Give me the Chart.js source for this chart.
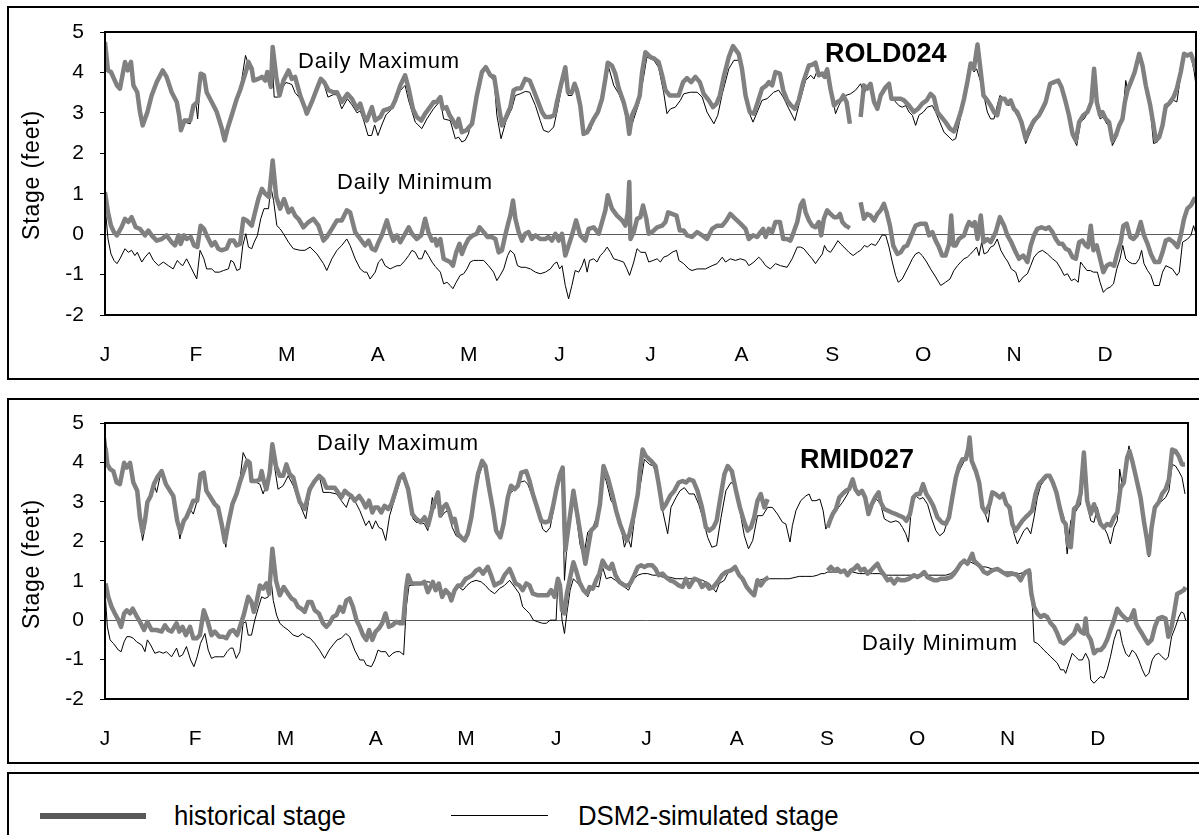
<!DOCTYPE html>
<html>
<head>
<meta charset="utf-8">
<script src="https://cdn.jsdelivr.net/npm/chart.js"></script>
<style>
  body { margin: 0; background: #fff; width: 1199px; height: 835px; overflow: hidden; position: relative;
         font-family: "Liberation Sans", Arial, sans-serif; }
  .box { position: absolute; border: 2px solid #000; box-sizing: border-box; }
  canvas { position: absolute; left: 0; }
  .txt { position: absolute; white-space: nowrap; color: #000; line-height: 1; z-index: 2; }
  .ytitle { position: absolute; white-space: nowrap; font-size: 23px; letter-spacing: 0.8px; line-height: 1;
            transform: translate(-50%, -50%) rotate(-90deg); z-index: 2; }
  .note { font-size: 22px; letter-spacing: 0.9px; }
  .lg { font-size: 28px; transform: scaleX(0.92); transform-origin: left; }
</style>
</head>
<body>
<div class="box" style="left:7px;top:6px;width:1200px;height:374px"></div>
<div class="box" style="left:7px;top:398px;width:1200px;height:366px"></div>
<div class="box" style="left:7px;top:772px;width:1200px;height:70px"></div>

<canvas id="rold" width="1199" height="390" style="top:0"></canvas>
<canvas id="rmid" width="1199" height="390" style="top:390px"></canvas>

<div class="ytitle" style="left:31px;top:175px">Stage (feet)</div>
<div class="ytitle" style="left:31px;top:564px">Stage (feet)</div>

<div class="txt note" style="left:298px;top:50px">Daily Maximum</div>
<div class="txt note" style="left:337px;top:171px">Daily Minimum</div>
<div class="txt" style="left:825px;top:40px;font-size:27px;font-weight:bold">ROLD024</div>

<div class="txt note" style="left:317px;top:432px">Daily Maximum</div>
<div class="txt" style="left:800px;top:446px;font-size:27px;font-weight:bold">RMID027</div>
<div class="txt note" style="left:862px;top:632px">Daily Minimum</div>

<!-- legend -->
<div style="position:absolute;left:40px;top:813px;width:106px;height:6px;background:#595959"></div>
<div class="txt lg" style="left:174px;top:802px">historical stage</div>
<div style="position:absolute;left:451px;top:815px;width:97px;height:1px;background:#000"></div>
<div class="txt lg" style="left:578px;top:802px">DSM2-simulated stage</div>

<script>
const monthLabels = ['J', 'F', 'M', 'A', 'M', 'J', 'J', 'A', 'S', 'O', 'N', 'D'];
const stageTicks = [-2, -1, 0, 1, 2, 3, 4, 5];

// [day of year, stage in feet]; null marks a gap in the record
const roldHistMax = [[0,4.75],[1,4.05],[2,4.01],[4,3.68],[5,3.6],[6.7,4.26],[7.6,4.05],[8.7,4.26],[9.5,3.68],[10.8,3.51],[11.7,3.02],[12.6,2.69],[14.2,3.02],[15.6,3.43],[17.3,3.76],[19.3,4.05],[20.6,3.89],[22.3,3.51],[24,3.27],[24.8,2.94],[25.4,2.57],[26.6,2.81],[28.5,2.81],[29.6,3.18],[30.9,3.27],[32,3.97],[33.1,3.93],[34,3.51],[35.7,3.27],[37.4,3.02],[39.1,2.61],[40,2.32],[41,2.61],[42.4,2.94],[44.1,3.35],[45.2,3.56],[47.4,4.09],[48,4.26],[49.1,4.09],[49.7,3.8],[51.3,3.84],[52.5,3.89],[53.6,3.8],[54.3,4.01],[55.5,3.64],[56.1,4.63],[57.3,3.89],[58.4,3.43],[59.7,3.8],[61.4,4.05],[62.5,3.84],[63.6,3.89],[65.3,3.43],[67,3.1],[67.5,2.98],[69.2,3.27],[70.9,3.6],[72.2,3.84],[73.3,3.76],[74.8,3.56],[76.4,3.51],[77.6,3.51],[79.2,3.27],[81.1,3.47],[82.6,3.35],[84.3,3.1],[85.4,3.23],[86.7,2.9],[87.6,2.81],[89.3,3.14],[90.4,2.81],[92.1,2.9],[93.2,3.06],[94.9,3.1],[96,3.14],[97.1,3.31],[98.8,3.68],[100.4,3.93],[101.6,3.6],[103,3.1],[104.3,2.9],[105.8,2.81],[107.1,2.98],[108.3,3.1],[110,3.27],[111,3.27],[112.2,3.39],
  [113,3.1],[114.2,3.14],[115.3,2.94],[116.4,2.81],[117.5,2.65],[118.3,2.85],[119.4,2.52],[120.9,2.57],[122.8,2.73],[124.4,3.43],[126.1,4.01],[127.4,4.13],[128.9,3.93],[130.2,3.89],[131.7,3.18],[132.8,2.69],[134.2,2.9],[135.6,3.14],[136.7,3.56],[137.8,3.6],[139.2,3.61],[140.6,3.84],[142.1,3.8],[143.4,3.56],[144.7,3.31],[146.2,3.02],[147.3,2.9],[149,2.9],[150.3,2.94],[151.2,3.27],[152.5,3.68],[154,4.13],[154.9,3.51],[156.2,3.51],[157.1,3.72],[157.9,3.56],[159,3.18],[160.1,2.48],[161.3,2.52],[162.4,2.69],[163.5,2.85],[164.9,3.02],[166.3,3.35],[167.4,3.84],[168.2,4.24],[169.6,4.17],[170.7,3.97],[171.9,3.6],[173.5,3.27],[174.6,2.94],[175.4,2.48],[176.3,2.94],[177.8,3.18],[178.9,3.43],[179.7,4.01],[180.8,4.5],[182.5,4.38],[183.8,4.34],[185.2,4.26],[186.4,3.93],[187.5,3.56],[188.9,3.43],[190.5,3.43],[191.9,3.43],[193.4,3.76],[194.7,3.86],[196.1,3.76],[197.5,3.89],[199,3.76],[200.3,3.47],[202,3.31],[203.4,3.14],[204.6,3.23],[205.7,3.43],[207,3.89],[208.7,4.38],[210.1,4.65],[212,4.46],[213.1,4.09],[214.3,3.43],[215.7,3.02],[217.1,2.98],[218.4,3.27],[219.8,3.6],[221.3,3.68],[222.1,3.76],[223.2,3.68],[224.3,4.01],[225.8,3.97],[226.9,3.56],[228.2,3.31],[229.6,3.18],[230.8,3.1],[232.1,3.31],[233.6,3.76],
  [235.5,4.17],[236.6,4.19],[237.7,4.24],[238.8,3.93],[240,3.97],[240.7,3.89],[241.6,4.08],[242.7,3.6],[243.9,3.18],[245,3.27],[246.1,3.31],[247,3.43],[248.1,3.27],[249.2,2.73],[250.5,null],[252.8,2.9],[253.9,3.68],[255,3.6],[256.1,3.72],[257.3,3.27],[258.4,3.1],[259.5,3.43],[261.2,3.64],[262.3,3.72],[263.1,3.35],[264.5,3.35],[266.2,3.35],[267.3,3.31],[269,3.18],[270.6,3.02],[272,3.1],[273.4,3.23],[274.9,3.31],[276.2,3.47],[277.3,3.39],[278.5,3.02],[279.8,2.9],[281.2,2.77],[282.7,2.61],[284,2.54],[285.2,2.77],[286.3,3.02],[287.4,3.35],[288.5,3.76],[289.6,4.22],[290.7,4.09],[291.9,4.69],[293,4.01],[293.9,3.43],[295.2,3.31],[296.3,3.18],[297.4,3.02],[298.5,2.94],[299.7,3.35],[301,3.35],[301.9,3.23],[303,3.31],[304.1,3.1],[305.2,3.02],[306.6,2.77],[308,2.36],[309.1,2.57],[310.8,2.81],[312.5,2.94],[313.6,3.1],[314.7,3.27],[316.2,3.72],[317.5,3.76],[318.9,3.8],[320,3.64],[321.4,3.27],[322.5,2.94],[323.7,2.48],[324.8,2.32],[325.9,2.77],[327.3,2.94],[328.7,3.02],[330,3.27],[330.9,4.09],[331.8,3.27],[332.9,2.94],[333.7,3.02],[334.8,2.85],[335.9,2.77],[337,2.32],[338.2,2.44],[339.3,2.69],[340.4,2.85],[341.2,3.27],[342.1,3.56],[343.2,3.76],[344.5,4.01],[346,4.46],[347.1,4.17],[348.2,3.68],[349.7,3.18],[350.8,2.69],[351.6,2.32],[352.7,2.4],[353.8,2.69],[354.9,3.18],[356,3.23],[357.5,3.39],[358.6,3.6],[359.9,4.01],[361,4.46],[362.1,4.42],[363.3,4.46],[364.4,4.22],[365,4.05]];

const roldSimMax = [[0,4.8],[1,4.05],[2,4],[4,3.68],[5,3.6],[6.7,4.22],[7.6,4.05],[8.7,4.22],[9.5,3.68],[10.8,3.51],[11.7,3.02],[12.6,2.69],[14.2,3.02],[15.6,3.43],[17.3,3.76],[19.3,4.05],[20.6,3.89],[22.3,3.51],[24,3.27],[24.8,2.94],[25.4,2.6],[26.6,2.77],[28.5,2.73],[29.5,3.18],[30.5,3.18],[31,2.85],[32,3.93],[33.1,3.9],[34,3.51],[35.7,3.27],[37.4,3.02],[39.1,2.61],[40,2.35],[41,2.61],[42.4,2.94],[44.1,3.35],[45.2,3.56],[47,4.42],[48,4.2],[49.1,3.95],[49.7,3.8],[51.3,3.84],[52.5,3.85],[53.6,3.8],[54.3,4],[55.5,3.64],[56.1,4.1],[56.6,3.39],[58,3.39],[59.2,3.6],[60.5,3.75],[61.5,3.73],[62.5,3.7],[63.6,3.5],[65.3,3.35],[67,3.05],[67.5,2.98],[69.2,3.27],[70.9,3.6],[72.2,3.8],[73.3,3.7],[74.6,3.39],[76.4,3.45],[77.6,3.45],[79.2,3.1],[81.1,3.35],[82.6,3.2],[84.3,3],[85.4,3.05],[86.6,2.8],[88,2.44],[89.2,2.44],[90.2,2.7],[91.3,2.44],[92.6,2.7],[94,2.95],[96,3.1],[97.1,3.25],[98.8,3.55],[100.4,3.68],[101.6,3.3],[103.8,2.77],[106,2.61],[107.7,2.85],[109.9,3.1],[112.2,3.3],
  [113.3,2.85],[115.5,2.81],[117.2,2.36],[118.3,2.4],[119.4,2.28],[120.5,2.32],[121.6,2.48],[124.4,3.43],[126.1,3.97],[127.4,4.09],[128.9,3.89],[130.2,3.8],[131.1,2.94],[132.5,2.36],[134.2,2.81],[136.1,3.1],[137.3,3.43],[138.9,3.47],[140.6,3.53],[142.1,3.51],[144,3.18],[145.6,2.81],[146.7,2.57],[148.4,2.52],[150.1,2.65],[151.2,3.02],[152.9,3.68],[154,4.13],[154.9,3.43],[156.2,3.43],[157.3,3.64],[159,3.1],[160.1,2.57],[161.3,2.52],[162.4,2.57],[164,2.94],[166.3,3.31],[167.4,3.76],[168.5,4.13],[170.2,3.68],[171.9,3.47],[173.5,3.18],[175.4,2.48],[176.9,2.85],[178.6,3.23],[180.2,3.89],[181.3,4.38],[183.6,4.3],[185.2,4.13],[186.9,3.51],[188,2.98],[189.2,3.1],[190.8,3.14],[192.5,3.31],[193.6,3.47],[195.8,3.51],[198.1,3.51],[199.8,3.39],[201.4,3.02],[203.7,2.73],[205,2.94],[206.5,3.47],[208.7,4.09],[210.4,4.3],[212.6,4.3],[214.3,3.6],[215.4,3.02],[216.8,2.77],[218.2,3.02],[219.8,3.31],[221.5,3.35],[223.7,3.51],[225.4,3.56],[226.9,3.39],[228.8,3.1],[230.8,2.81],[232.1,3.18],
  [233.3,3.51],[234.4,3.8],[236.1,3.93],[237.2,3.84],[238.1,4.01],[238.8,3.89],[240,3.93],[241.1,3.84],[242.2,4.01],[243.3,3.43],[244.4,2.98],[245.5,3.18],[246.7,3.35],[247.8,3.43],[249.4,3.47],[251.1,3.56],[252.8,3.72],[253.9,3.47],[255,3.64],[256.1,3.64],[257.3,3.23],[258.4,3.1],[259.5,3.39],[261.2,3.64],[262.3,3.64],[263.1,3.39],[264.5,3.27],[265.6,3.18],[266.7,3.14],[267.9,3.18],[269,3.02],[270.1,2.94],[271.2,2.69],[272.3,2.94],[273.8,3.02],[275.1,3.14],[276.8,3.18],[277.9,3.02],[279.3,2.77],[280.7,2.52],[282.4,2.4],[283.5,2.32],[284.6,2.36],[286.1,2.85],[287.4,3.39],[288.5,3.8],[289.6,4.22],[290.7,4.01],[291.6,4.09],[293,3.76],[293.9,3.47],[295.2,3.02],[296.3,2.85],[297.4,2.85],[298.5,3.18],[299.4,3.43],[300.8,3.35],[302.1,3.18],[303.6,3.23],[304.7,2.98],[305.8,2.85],[306.9,2.61],[308,2.24],[309.1,2.44],[310.8,2.73],[312.5,2.9],[313.6,3.02],[314.7,3.18],[316.2,3.68],[317.5,3.72],[318.9,3.8],[320,3.6],[321.4,3.18],[322.5,2.85],[323.7,2.4],[325.1,2.19],[326.4,2.77],[327.6,2.85],[328.9,3.02],[330,3.27],[330.9,3.93],[331.8,3.27],[332.9,2.85],[334,2.9],[335.1,2.73],[336.3,2.69],[337,2.19],[338.2,2.36],[339.3,2.69],[340.4,2.85],[341.5,3.8],[342.3,3.51],[343.2,3.68],[344.5,4.01],[346,4.42],[347.1,4.09],[348.2,3.6],[349.7,3.1],[350.8,2.24],[352.1,2.28],[353.8,2.65],[354.9,3.1],[356,3.18],[357.5,3.31],[358.6,3.27],[359.9,3.93],[361,4.46],[362.1,4.38],[363.3,4.42],[364.4,4.01],[365,3.68]];

const roldHistMin = [[0,1.04],[1,0.54],[2,0.21],[3,0.05],[4,-0.03],[5.5,0.17],[6.7,0.38],[7.8,0.3],[8.9,0.42],[10.3,0.17],[11.7,0.13],[13.4,-0.03],[14.5,0.09],[15.6,-0.03],[17.3,-0.16],[19,-0.12],[20.6,-0.03],[22.3,-0.2],[23.4,-0.28],[24.6,-0.03],[25.3,-0.24],[26.4,-0.03],[27.3,-0.12],[28.7,-0.07],[29.8,-0.28],[30.9,-0.32],[32,0.21],[33.1,0.13],[34,-0.03],[35.7,-0.28],[36.8,-0.2],[37.9,-0.36],[39,-0.4],[40.7,-0.36],[41.8,-0.16],[43.1,-0.16],[44,-0.28],[45.2,-0.24],[46.3,0.38],[47.4,0.34],[49.1,0.21],[50.2,0.54],[51.3,0.87],[52.5,1.12],[53.6,1],[54.9,0.92],[56.1,1.82],[57.3,0.92],[58.6,0.63],[59.9,0.87],[61.4,0.54],[62.5,0.63],[63.6,0.46],[64.7,0.38],[66.4,0.17],[68.1,0.3],[69.7,0.38],[71.4,0.21],[73.1,-0.16],[74.2,-0.07],[75.9,0.13],[77.6,0.34],[79.2,0.34],[80.9,0.59],[82,0.54],[83.7,0.05],[85.4,-0.12],[87,-0.28],[88.2,-0.16],[89.3,-0.36],[90.4,-0.4],[91.5,-0.2],[92.6,-0.03],[94.3,0.34],[95.4,0.05],[96.5,-0.16],[97.7,-0.03],[98.8,-0.2],[100.4,0.01],[101.6,0.17],[102.7,0.01],[104.3,-0.12],[105.8,-0.03],[107.1,0.38],[108.2,0.05],[109.4,-0.16],[110.5,-0.12],
  [111,-0.28],[112.2,-0.12],[113.3,-0.61],[114.4,-0.65],[115.5,-0.69],[116.4,-0.78],[117.5,-0.45],[118.6,-0.24],[119.4,-0.49],[120.5,-0.28],[121.6,-0.12],[123.1,-0.03],[124.4,0.01],[125.3,0.17],[126.7,0.05],[128,-0.07],[129.4,-0.07],[130.6,-0.12],[131.7,-0.45],[132.8,-0.4],[133.9,-0.03],[135,0.3],[135.6,0.46],[136.5,0.83],[137.3,0.38],[138.4,0.05],[139.5,-0.16],[140.6,0.01],[141.7,0.05],[142.8,-0.12],[144,-0.03],[145.6,-0.12],[147.3,-0.12],[148.4,-0.07],[149.5,-0.16],[150.7,0.01],[151.8,-0.16],[152.9,0.01],[154,-0.53],[155.1,-0.28],[156.2,-0.03],[157.6,0.34],[159,-0.03],[160.7,-0.16],[161.8,0.13],[163.5,0.17],[165.2,0.01],[166.3,0.3],[167.4,0.59],[168.2,0.96],[169.6,0.63],[171.3,0.46],[173,0.34],[174.1,0.21],[174.9,0.54],[175.4,1.29],[175.8,-0.12],[176.9,0.05],[178,0.38],[179.1,0.42],[180,0.71],[181.1,0.38],[181.9,0.01],[183,0.05],[184.7,0.17],[186.4,0.21],[187.5,0.3],[188.4,0.54],[189.7,0.5],[191.2,0.46],[192.3,0.09],[193.6,0.09],[194.7,-0.03],[196.4,-0.07],[198.1,0.05],[199.8,-0.03],[201.4,-0.12],[203.1,0.13],[204.8,0.21],[206.5,0.21],[207.9,0.34],[209.2,0.5],[210.9,0.38],[212.6,0.26],[214.3,0.13],[215.4,-0.12],[216.8,-0.03],[218.2,-0.07],[219.3,0.05],[220.2,0.13],[221,-0.07],[222.1,0.13],[223.2,0.05],[224.3,0.3],[225.8,0.3],[226.9,-0.12],[228.2,-0.12],[229.3,-0.16],[230.4,0.05],[231.6,0.3],
  [232.7,0.71],[233.6,0.83],[234.4,0.54],[235.5,0.34],[236.6,0.21],[237.7,0.17],[238.8,0.3],[239.6,-0.03],[240.5,0.38],[241.6,0.59],[242.7,0.5],[243.9,0.42],[245,0.42],[245.9,0.5],[246.7,0.3],[247.8,0.21],[249.2,0.15],[250.5,null],[252.8,0.79],[253.9,0.38],[255,0.5],[256.1,0.46],[257.3,0.34],[258.4,0.5],[259.5,0.59],[260.6,0.75],[261.5,0.54],[262.6,0.21],[263.7,-0.28],[265.1,-0.49],[266.2,-0.45],[267.3,-0.32],[268.4,-0.28],[269.8,-0.03],[271.2,0.21],[272.9,0.26],[274.6,0.26],[275.7,-0.03],[276.8,0.05],[277.9,-0.16],[279,-0.32],[280.1,-0.53],[281.2,-0.53],[282.4,-0.24],[283.1,0.46],[283.8,-0.28],[284.6,-0.28],[285.7,-0.12],[287.4,-0.03],[288.3,0.17],[289.1,0.3],[290.2,0.21],[291,0.3],[291.9,-0.12],[293,0.46],[293.9,-0.2],[295.2,-0.12],[296.3,-0.2],[298,0.05],[299.4,0.42],[300.8,0.21],[301.9,-0.03],[303.2,-0.2],[304.7,-0.45],[305.8,-0.61],[307.2,-0.53],[308.6,-0.69],[309.7,-0.28],[310.8,-0.03],[311.9,0.13],[313.3,0.17],[314.7,0.13],[315.8,0.17],[317,0.05],[318.1,-0.12],[319.2,-0.24],[320.3,-0.24],[321.4,-0.36],[322.5,-0.4],[323.7,-0.57],[324.8,-0.61],[325.9,-0.2],[327,-0.16],[328.1,-0.28],[328.9,-0.32],[329.8,0.21],[330.7,-0.4],[331.8,-0.28],[332.9,-0.61],[334,-0.94],[335.1,-0.78],[336.3,-0.73],[337.6,-0.78],[338.7,-0.45],[339.8,-0.2],[340.7,0.21],[341.8,0.26],[343,-0.07],[344.1,-0.12],[345.2,-0.03],[346.5,0.3],[347.6,-0.03],[348.8,-0.24],[349.9,-0.49],[351.2,-0.69],[352.7,-0.69],[353.8,-0.45],[354.9,-0.16],[356,-0.12],[357.5,-0.2],[358.8,-0.32],[359.9,-0.03],[361,0.38],[362.1,0.63],[363.3,0.71],[364.4,0.87],[365,0.79]];

const roldSimMin = [[0,0.71],[1,-0.12],[2,-0.49],[3,-0.65],[4,-0.73],[5,-0.61],[6.7,-0.36],[7.8,-0.45],[8.9,-0.4],[10,-0.53],[10.8,-0.45],[12.3,-0.69],[13.4,-0.57],[14.8,-0.45],[16.2,-0.65],[17.9,-0.78],[19.5,-0.69],[21.2,-0.78],[22.8,-0.86],[24.2,-0.65],[25.1,-0.73],[26,-0.78],[27.3,-0.61],[29,-0.86],[30.7,-1.11],[31.8,-0.4],[33.1,-0.61],[34,-0.86],[35.7,-0.86],[36.8,-0.94],[38.3,-0.94],[39.6,-0.9],[41.3,-0.86],[42.1,-0.65],[43,-0.69],[44.1,-0.9],[45.2,-0.86],[46.1,-0.28],[47.1,0.01],[48,-0.32],[49.1,-0.36],[49.9,-0.2],[51,-0.03],[52.1,0.38],[53.2,0.63],[54.7,0.63],[55.5,1.16],[56.4,0.83],[57.5,0.21],[58.6,0.13],[59.7,0.01],[61.4,-0.2],[63,-0.36],[65.3,-0.4],[66.9,-0.4],[68.6,-0.32],[70.9,-0.49],[73.1,-0.73],[74.2,-0.9],[75.9,-0.61],[77.6,-0.4],[79.2,-0.28],[80.9,-0.12],[82,-0.28],[83.7,-0.61],[85.4,-0.86],[86.7,-0.94],[87.6,-0.94],[88.7,-1.11],[90.4,-0.94],[91.5,-0.69],[92.6,-0.61],[93.7,-0.78],[95.4,-0.86],[96.5,-0.82],[97.7,-0.78],[98.8,-0.78],[100.4,-0.65],[101.6,-0.53],[102.7,-0.4],[103.8,-0.45],[104.9,-0.61],[106,-0.61],[107.1,-0.4],[108.2,-0.53],[109.4,-0.69],[110.5,-0.8],
  [112.2,-0.94],[113.3,-1.23],[114.4,-1.19],[115.5,-1.27],[116.4,-1.35],[117.5,-1.19],[118.8,-1.02],[120,-0.98],[121.1,-0.86],[122.2,-0.69],[123.3,-0.65],[125,-0.65],[126.7,-0.65],[128.3,-0.78],[130,-0.94],[131.1,-1.15],[132.2,-1.02],[133.4,-0.86],[134.7,-0.53],[135.6,-0.4],[136.9,-0.49],[138,-0.78],[139.2,-0.82],[140.6,-0.82],[142.3,-0.86],[144,-0.94],[145.6,-0.98],[147.3,-0.94],[149,-0.86],[150.3,-0.73],[151.2,-0.69],[152.1,-0.86],[152.9,-0.78],[154,-1.27],[155.1,-1.6],[156.2,-1.27],[157.3,-0.9],[158.5,-0.94],[159.6,-0.78],[160.4,-0.61],[161.3,-0.94],[162.1,-0.65],[163.5,-0.61],[164.6,-0.69],[165.7,-0.53],[166.8,-0.45],[168,-0.32],[169.1,-0.45],[170.2,-0.61],[171.9,-0.65],[173.5,-0.69],[174.6,-0.86],[175.5,-1.02],[176.9,-0.69],[178,-0.36],[179.3,-0.45],[180.8,-0.45],[181.9,-0.69],[183.4,-0.65],[184.7,-0.61],[185.8,-0.69],[186.9,-0.57],[188.3,-0.53],[189.7,-0.45],[191.2,-0.4],[192,-0.65],[193.6,-0.73],[195.3,-0.86],[196.4,-0.9],[198.1,-0.86],[200.9,-0.86],[203.1,-0.78],[204.8,-0.73],[206.5,-0.57],[207.6,-0.69],[209.2,-0.61],[210.9,-0.65],[212.6,-0.61],[214.3,-0.65],[215.4,-0.78],[217.1,-0.69],[218.7,-0.57],[219.8,-0.65],[221,-0.78],[222.6,-0.86],[224.3,-0.73],[226,-0.78],[228.2,-0.82],[229.9,-0.61],[231.6,-0.32],
  [232.7,-0.32],[233.8,-0.36],[235.2,-0.49],[236.6,-0.61],[237.7,-0.73],[238.8,-0.61],[240,-0.49],[240.7,-0.28],[241.6,-0.4],[242.7,-0.45],[243.9,-0.32],[245.2,-0.16],[246.1,-0.24],[247.2,-0.32],[248.9,-0.45],[250.3,-0.53],[251.7,-0.45],[252.8,-0.4],[254.1,-0.28],[255,-0.32],[256.4,-0.24],[257.8,-0.28],[258.9,-0.16],[260,-0.02],[261.2,-0.03],[262.3,-0.32],[263.4,-0.69],[264.5,-1.02],[265.4,-1.19],[266.7,-1.11],[267.9,-0.94],[269,-0.78],[270.1,-0.61],[271.2,-0.49],[272.3,-0.45],[273.4,-0.53],[274.9,-0.69],[276.2,-0.86],[277.9,-1.06],[279.6,-1.27],[281.2,-1.19],[282.7,-1.11],[284,-0.9],[285.2,-0.78],[286.3,-0.69],[287.4,-0.61],[288.5,-0.57],[289.6,-0.49],[290.7,-0.4],[291.6,-0.32],[292.4,-0.53],[293.3,-0.2],[294.1,-0.49],[295.2,-0.45],[296.3,-0.32],[297.4,-0.28],[298.5,-0.12],[299.7,-0.4],[301,-0.57],[302.1,-0.69],[303.2,-0.86],[304.7,-0.94],[305.8,-1.19],[307.2,-1.06],[308.6,-0.98],[309.7,-0.78],[310.8,-0.57],[312.2,-0.45],[313.6,-0.4],[315.3,-0.49],[317,-0.61],[318.4,-0.69],[319.8,-0.86],[320.9,-1.02],[322,-0.98],[323.3,-1.15],[324.4,-1.11],[325.6,-1.19],[326.4,-0.69],[327.3,-0.78],[328.5,-0.9],[329.6,-0.9],[330.7,-0.94],[332,-0.94],[332.9,-1.19],[334,-1.44],[335.1,-1.35],[336.3,-1.31],[337.4,-1.23],[338.5,-0.86],[339.6,-0.61],[340.5,-0.28],[341.5,-0.61],[342.6,-0.69],[343.7,-0.73],[344.9,-0.73],[346,-0.61],[346.8,-0.4],[347.6,-0.73],[348.8,-0.9],[349.9,-1.02],[351,-1.27],[352.7,-1.27],[353.8,-0.94],[354.9,-0.78],[356,-0.82],[357.1,-0.86],[358.6,-1.02],[359.4,-0.94],[360.5,-0.2],[362.2,-0.12],[363.3,-0.03],[364.2,0.21],[365,0.01]];

const rmidHistMax = [[0.2,4.37],[0.8,3.95],[1.7,3.83],[2.8,3.78],[3.9,3.49],[5,3.45],[6.4,3.99],[7.3,3.87],[8.4,3.99],[9.5,3.49],[10.8,3.28],[11.7,2.61],[12.6,2.23],[13.4,2.52],[14.2,2.99],[15.3,3.15],[16.4,3.45],[17.5,3.62],[19,3.78],[20.4,3.45],[21.8,3.28],[22.9,3.15],[24.2,2.52],[25.3,2.23],[26.4,2.52],[27.3,2.61],[28.5,2.82],[29.6,3.03],[30.9,3.03],[32,3.7],[33.1,3.74],[34,3.28],[35.4,3.11],[36.8,2.94],[37.9,2.86],[39.1,2.44],[40.2,1.98],[41.3,2.44],[42.7,2.94],[44.1,3.2],[45.2,3.49],[46.5,3.78],[47.7,4.04],[48.5,3.99],[49.1,3.53],[50.8,3.53],[51.9,3.57],[52.5,3.78],[53.2,3.53],[54.1,3.32],[55.2,3.74],[56.1,4.46],[57.3,3.91],[58.6,3.66],[59.7,3.66],[60.8,3.95],[61.9,3.7],[63.1,3.62],[64.2,3.28],[65.3,2.99],[67,2.82],[68.6,3.32],[70.3,3.53],[71.8,3.66],[73.1,3.57],[74.2,3.36],[75.9,3.36],[77,3.36],[78.1,3.24],[79.2,3.11],[80.4,3.28],[81.5,3.2],[82.6,3.15],[83.7,3.03],[85.2,3.15],[86.3,3.03],[87.4,2.86],[88.5,3.03],[89.6,2.73],[90.4,2.86],[91.5,2.86],[92.6,2.73],[93.7,2.9],[94.9,2.82],[96,2.94],[97.4,3.28],[98.8,3.62],[99.9,3.7],[101.6,3.32],[103,2.69],[104.3,2.57],[105.8,2.48],[107.1,2.61],[108.3,2.4],
  [109.7,2.82],[110.5,2.99],[111.6,3.24],[112.4,2.65],[113.3,2.86],[114.4,2.94],[115.3,2.78],[116.4,2.48],[117.2,2.57],[118.3,2.19],[119.4,2.1],[120.5,2.02],[121.6,2.19],[122.8,2.61],[123.9,3.2],[125,3.7],[126.4,4.04],[127.5,3.91],[128.9,3.28],[130,2.82],[131.1,2.27],[132.5,2.1],[133.6,2.44],[135,3.11],[136.1,3.41],[137.3,3.32],[138.4,3.41],[139.5,3.74],[141.2,3.78],[142.3,3.53],[143.4,3.2],[144.5,2.94],[146.2,2.52],[147.6,2.48],[149,2.52],[150.1,2.86],[151.4,3.36],[152.5,3.7],[153.4,3.87],[154.3,1.77],[157,3.28],[161,1.43],[162.9,2.27],[164.6,2.4],[165.9,2.94],[167.1,3.91],[168.5,3.62],[170,3.2],[171.3,2.78],[172.6,2.44],[174.1,2.14],[174.9,2.02],[175.8,2.19],[177.1,2.61],[178.6,3.2],[179.3,3.78],[180.2,4.33],[181.3,4.16],[183,4.04],[184.5,3.91],[185.6,3.45],[186.9,2.82],[188,2.94],[189.4,3.15],[190.8,3.28],[192.3,3.49],[193.6,3.53],[194.7,3.49],[195.8,3.57],[197.2,3.53],[198.6,3.28],[200.1,2.86],[201.4,2.35],[202.5,2.27],[203.9,2.35],[205,2.52],[206.1,3.03],[207.6,3.7],[208.7,3.91],[210.1,3.78],[211.5,3.28],[212.8,2.86],[214.3,2.48],[215.4,2.27],[216.5,2.35],[217.6,2.61],[218.7,3.03],[219.8,3.2],[221,2.86],[222.1,3.07],[230,null],
  [242.2,2.35],[243,2.52],[243.9,2.69],[245,2.82],[246.1,3.11],[247.2,3.2],[248.3,3.28],[249.4,3.32],[250.6,3.57],[251.5,3.32],[252.6,3.2],[253.7,3.28],[254.8,3.11],[255.9,2.69],[257,2.94],[258.1,3.11],[259.3,3.24],[260,2.99],[261.2,2.82],[262.3,2.78],[263.7,2.73],[265.1,2.69],[266.2,2.65],[267.5,2.61],[268.6,2.52],[269.8,2.69],[270.9,3.11],[272,3.2],[273.1,3.2],[274.2,3.45],[275.3,3.2],[276.4,3.07],[277.6,2.9],[279,2.61],[280.5,2.48],[281.8,2.44],[282.9,2.61],[284,3.11],[285.2,3.62],[286.3,3.91],[287.4,4.08],[288.5,4.08],[289.4,4.37],[289.8,4.63],[290.5,4.04],[291.9,3.78],[293,3.49],[294.1,2.86],[295.2,2.73],[296.5,2.94],[297.4,3.24],[298.5,3.2],[299.9,3.11],[301,3.2],[302.1,2.94],[303.2,2.86],[304.1,2.44],[305.2,2.27],[306.4,2.4],[307.5,2.52],[308.6,2.61],[309.7,2.69],[310.8,2.78],[311.9,3.2],[313,3.45],[314.4,3.57],[315.5,3.66],[316.6,3.66],[317.7,3.49],[318.9,3.24],[320,2.86],[321.1,2.52],[322,2.44],[322.9,1.89],[323.7,1.85],[324.8,2.82],[325.9,2.9],[327,3.2],[328.1,4.25],[329.2,3.03],[330.4,2.69],[331.5,2.94],[332.6,2.69],[333.7,2.44],[334.8,2.35],[335.9,2.44],[337,2.4],[338.2,2.61],[339.3,2.73],[340.4,3.36],[341.5,3.49],[342.6,4.12],[343.4,4.29],[344.3,4.04],[345.6,3.62],[347.1,3.11],[348.2,2.52],[349.3,2.02],[349.9,1.68],[350.8,2.35],[351.9,2.86],[353.2,2.99],[354.3,3.2],[355.5,3.32],[356.6,3.57],[357.7,4.33],[358.8,4.29],[359.9,4.16],[361,3.95],[362,3.95]];

const rmidSimMax = [[0.2,4.63],[0.8,3.91],[1.7,3.83],[2.8,3.78],[3.9,3.49],[5,3.45],[6.4,3.99],[7.3,3.87],[8.4,3.99],[9.5,3.49],[10.8,3.28],[11.7,2.52],[12.6,2.02],[13.4,2.35],[14.2,3.03],[15.3,3.15],[16.4,3.45],[17.3,3.24],[19,3.83],[20.4,3.45],[21.8,3.28],[22.9,3.15],[24.2,2.52],[25.1,2.06],[26.4,2.52],[27.3,2.61],[28.5,2.82],[29.6,2.69],[30.9,3.03],[32,3.74],[33.1,3.78],[34,3.28],[35.4,3.11],[36.8,2.94],[37.9,2.86],[39.1,2.44],[40.5,1.85],[41.3,2.44],[42.7,2.99],[44.1,3.24],[45.2,3.53],[46.3,4.25],[47.4,4.08],[48.5,3.99],[49.1,3.49],[50.8,3.49],[51.9,3.45],[53,3.2],[54.5,3.53],[56.1,4.25],[58,3.32],[59.7,3.41],[61.4,3.66],[63.1,3.41],[65.3,2.94],[67.3,2.57],[68.6,3.2],[70.3,3.57],[71.8,3.66],[73.1,3.24],[75.3,3.24],[77.6,3.2],[79.2,3.03],[80.9,2.86],[82,3.11],[83.7,3.03],[85.4,2.78],[87.4,2.4],[88.5,2.52],[89.6,2.31],[90.7,2.52],[91.8,2.35],[92.9,2.31],[94.1,2.02],[95.4,2.65],[97.6,3.2],[99.3,3.62],[100.4,3.53],[102.1,3.2],[103.2,2.57],[104.3,2.48],[105.8,2.48],[107.1,2.44],[108.2,2.27],
  [109.7,3.11],[110.5,2.82],[111.6,3.2],[112.7,2.61],[113.8,2.73],[115,2.78],[116.4,2.35],[117.7,2.14],[119.4,2.06],[120.5,2.02],[122.2,2.35],[123.9,3.11],[125.5,3.7],[126.7,3.95],[128,3.78],[129.4,3.11],[131.1,2.19],[132.5,2.06],[133.9,2.48],[135.6,3.2],[137.3,3.32],[138.9,3.49],[140.6,3.53],[141.7,3.45],[143.4,3.11],[145.1,2.78],[146.7,2.31],[147.9,2.23],[149.2,2.35],[150.7,2.94],[152.3,3.62],[153.2,3.74],[154,1.01],[155.1,2.19],[156.6,3.2],[157.9,2.69],[159.2,1.93],[160.4,1.6],[161.8,2.23],[163.5,2.35],[165.2,2.69],[166.8,3.74],[168,3.53],[169.6,3.03],[171.3,2.86],[173,2.35],[174.1,1.85],[175.2,2.1],[176.3,1.85],[177.8,2.78],[179.3,3.36],[180.8,4.08],[182.5,3.95],[183.8,3.91],[184.7,3.7],[185.8,3.2],[186.9,2.78],[188.6,2.19],[189.7,2.86],[191.4,3.11],[192.7,3.28],[194.2,3.36],[195.8,3.2],[197.5,3.2],[199,2.94],[200.3,2.61],[202,2.1],[203.4,1.85],[205,1.89],[206.5,2.61],[208.1,3.28],[209.8,3.49],[210.9,3.45],[212.6,2.86],[214.3,2.14],[215.7,1.81],[217.1,2.02],[218.7,2.65],[220.4,2.65],[222.1,2.86],[223.7,2.86],[225.4,2.69],[227.1,2.48],[228.2,2.44],[229.6,1.98],[230.4,2.4],[231.6,2.78],[233.2,3.03],[234.9,3.15],[236,3.2],
  [236.9,3.03],[238.3,3.03],[239.6,3.07],[240.7,2.78],[241.6,2.31],[243,2.48],[244.4,2.69],[245.9,2.86],[247.2,2.99],[248.9,3.2],[250.6,3.49],[251.7,3.32],[252.8,3.2],[254.1,3.28],[255.2,2.94],[256.1,2.82],[257.2,2.9],[258.6,3.07],[260,2.94],[261.2,2.57],[262.3,2.52],[263.4,2.48],[265.1,2.52],[266.2,2.48],[267.3,2.35],[268.4,2.19],[269.3,1.98],[270.4,2.94],[271.8,3.15],[273.1,3.07],[274.2,3.11],[275.7,2.94],[277.1,2.57],[278.5,2.27],[279.8,2.14],[281.2,2.23],[282.4,2.52],[283.5,3.03],[284.9,3.53],[286.3,3.78],[288,4.04],[289.1,4.12],[289.8,4.33],[291,3.83],[292.4,3.7],[293.5,3.28],[294.6,2.78],[296,2.48],[297.2,3.2],[298.5,3.24],[299.7,3.11],[301,3.15],[302.1,3.03],[303.2,2.69],[304.7,2.19],[305.8,1.93],[306.9,2.1],[308,2.27],[309.1,2.35],[310.3,2.19],[311.4,2.61],[312.5,3.11],[313.6,3.41],[314.7,3.53],[315.8,3.62],[317,3.66],[318.1,3.49],[319.2,3.2],[320.3,2.86],[321.4,2.61],[322.5,1.68],[323.7,2.52],[324.8,2.69],[325.9,2.82],[327,2.94],[328.1,4.25],[329.2,2.94],[330.4,2.52],[331.5,2.48],[332.6,2.86],[333.7,2.52],[334.8,2.35],[335.9,2.19],[337,1.93],[338.2,2.35],[339.3,2.52],[340.1,3.83],[341,3.41],[342.1,3.78],[343.2,4.42],[344.3,4.04],[346,3.53],[347.6,3.03],[348.8,2.35],[349.9,1.6],[350.8,2.19],[351.9,2.86],[353.2,2.94],[354.3,3.03],[355.5,3.11],[356.6,3.28],[357.7,3.95],[358.8,3.91],[359.9,3.78],[361,3.62],[362,3.2]];

const rmidHistMin = [[0.2,0.93],[1.1,0.59],[2.2,0.34],[3.3,0.17],[4.5,0],[5.4,-0.17],[6.4,0.17],[7.3,0.25],[8.4,0.17],[9.3,0.29],[10.4,0.13],[11.7,-0.04],[13.1,-0.25],[14.2,-0.04],[15.6,-0.25],[17.3,-0.25],[19,-0.29],[20.1,-0.13],[21.2,-0.25],[22.3,-0.29],[24,-0.08],[24.9,-0.29],[26,-0.17],[27.1,-0.38],[28.5,-0.17],[29.6,-0.46],[30.7,-0.46],[31.8,-0.38],[33.1,0.25],[34.3,0],[35.7,-0.38],[36.8,-0.29],[38.3,-0.42],[39.6,-0.42],[40.7,-0.46],[41.9,-0.29],[43,-0.25],[44.3,-0.38],[45.2,-0.17],[46.5,0.13],[48,0.59],[49.1,0.46],[49.9,0.21],[50.8,0.46],[51.9,0.88],[53,0.8],[54.1,0.93],[55,0.67],[56.1,1.81],[57.3,1.01],[58.6,0.63],[59.9,0.84],[61.4,0.67],[62.5,0.55],[63.6,0.5],[64.7,0.34],[65.8,0.29],[66.9,0.21],[68.1,0.46],[69.2,0.46],[70.3,0.25],[71.7,0.17],[73.1,-0.08],[74.2,-0.17],[75.3,-0.08],[76.4,0.08],[77.6,0.13],[78.7,0.34],[79.8,0.21],[80.9,0.5],[82,0.55],[83.1,0.34],[84.3,0],[85.4,-0.17],[86.5,-0.38],[87.6,-0.5],[88.5,-0.25],[89.6,-0.5],[90.7,-0.29],[91.8,-0.21],[92.9,-0.08],[94,0.17],[95.2,-0.17],[96.3,-0.13],[97.6,-0.04],[98.8,-0.08],[99.9,-0.08],[101,0.84],[101.6,1.14],[102.7,0.93],[104.4,0.93],[106,0.93],[107.1,0.97],[108.2,0.71],
  [109.9,0.97],[110.8,0.76],[111.9,0.93],[113,0.59],[114.2,0.76],[115.3,0.67],[116.1,0.5],[117.2,0.76],[118.3,0.88],[119.4,0.88],[120.9,1.05],[122,1.09],[123.1,1.14],[124.4,1.26],[125.5,1.3],[126.7,1.18],[128.3,1.35],[129.4,1.14],[130.6,0.88],[131.7,0.93],[132.8,0.97],[133.9,1.14],[135.6,1.3],[136.5,1.14],[137.6,0.93],[138.9,0.88],[140,0.76],[141.2,0.93],[142.3,0.88],[143.4,0.67],[145.1,0.63],[146.7,0.63],[148.4,0.63],[149.5,0.76],[150.7,0.59],[151.8,1.05],[152.5,0.88],[153.2,0.25],[154,0.17],[154.8,0.67],[155.7,1.01],[157,1.47],[157.9,1.26],[159,0.97],[160.4,0.76],[161.5,0.67],[162.4,0.84],[163.5,0.8],[164.6,1.01],[165.7,1.18],[166.8,1.51],[168,1.35],[169.1,1.3],[170,1.43],[171.1,1.14],[172.4,0.97],[174.1,0.88],[175.5,0.88],[176.3,0.97],[177.4,1.14],[178.6,1.35],[179.7,1.39],[180.8,1.35],[181.9,1.39],[183.4,1.39],[184.5,1.3],[185.6,1.14],[186.9,1.18],[188,1.09],[189.4,1.01],[190.8,0.97],[192.3,0.88],[193.6,0.84],[194.7,1.05],[195.8,0.84],[197.5,1.05],[199,1.01],[200.1,0.84],[201.4,0.93],[202.5,0.8],[203.9,0.84],[205.3,0.97],[206.8,1.14],[208.1,1.22],[209.8,1.26],[211.2,1.35],[212.6,1.14],[213.7,1.05],[215.1,0.84],[216.5,0.71],[217.6,0.63],[218.7,1.01],[219.8,0.88],[221,1.01],[222.4,1.09],[230,null],
  [242.2,1.26],[243.3,1.35],[244.4,1.26],[245.5,1.3],[246.6,1.22],[247.8,1.26],[248.9,1.14],[250,1.26],[251.1,1.3],[252.2,1.39],[253.3,1.26],[254.5,1.3],[255.6,1.18],[256.7,1.26],[257.8,1.35],[258.9,1.43],[260,1.26],[261.2,1.14],[262.3,1.01],[263.4,1.05],[264.5,0.93],[265.6,1.05],[266.7,1.01],[267.9,1.01],[269.5,1.05],[271.2,1.14],[272.3,1.09],[273.4,1.14],[274.6,1.22],[275.7,1.09],[276.8,1.05],[277.9,1.01],[279,1.01],[280.1,1.05],[281.8,1.05],[283.5,1.09],[284.6,1.18],[285.7,1.3],[286.8,1.43],[288,1.51],[289.1,1.43],[290.2,1.6],[290.7,1.68],[291.3,1.51],[292.4,1.43],[293.5,1.35],[294.6,1.22],[295.8,1.18],[297.4,1.26],[299.1,1.3],[300.8,1.22],[302.5,1.14],[304.1,1.18],[305.8,1.14],[306.9,1.01],[307.7,1.14],[308.6,1.22],[309.7,1.26],[310.5,0.67],[311.4,0.34],[312.5,0.17],[313.6,0.08],[314.7,0.13],[315.8,0.08],[317,-0.08],[318.1,-0.17],[319.2,-0.34],[320.3,-0.55],[321.4,-0.59],[322.5,-0.5],[323.7,-0.42],[324.8,-0.34],[325.9,-0.13],[327,-0.29],[328.1,-0.34],[328.7,0.04],[329.2,-0.34],[330.4,-0.5],[331.5,-0.84],[332.6,-0.76],[333.7,-0.76],[334.8,-0.67],[335.9,-0.5],[337,-0.25],[338.2,0],[339.3,0.29],[340.4,0.17],[341.5,0.08],[342.6,0],[343.7,0.04],[344.9,0.25],[345.6,-0.08],[346.5,-0.21],[347.6,-0.34],[348.8,-0.5],[349.6,-0.59],[350.8,-0.5],[351.9,-0.17],[353,0.04],[354.3,0.08],[355.5,0.04],[356.4,-0.42],[357.5,-0.17],[358.3,0.17],[359.4,0.67],[360.5,0.71],[361.6,0.76],[362.2,0.84]];

const rmidSimMin = [[0.2,0.5],[0.8,-0.17],[1.7,-0.5],[2.8,-0.59],[4.5,-0.76],[5.4,-0.8],[6.4,-0.55],[7.3,-0.42],[8.4,-0.42],[9.5,-0.46],[10.6,-0.55],[12.3,-0.63],[13.4,-0.8],[14.2,-0.5],[15.3,-0.63],[16.7,-0.84],[18.2,-0.8],[19.5,-0.84],[20.6,-0.8],[22.3,-0.93],[24,-0.71],[24.9,-0.93],[26,-0.88],[27.3,-0.67],[28.7,-1.01],[29.8,-1.18],[30.9,-0.93],[32,-0.59],[33.5,-0.34],[34.6,-0.76],[35.7,-0.97],[36.8,-0.93],[38.3,-0.93],[39.8,-0.93],[40.9,-0.8],[42,-0.71],[42.9,-0.71],[44,-0.97],[45.2,-0.8],[46.3,-0.08],[47.2,-0.04],[48,-0.38],[49.1,-0.38],[50.2,0],[51.3,0.29],[52.5,0.59],[53.6,0.55],[54.7,0.59],[55.5,1.14],[56.4,0.5],[57.5,0.13],[58.6,-0.08],[59.9,-0.17],[61.4,-0.25],[63.1,-0.38],[64.7,-0.42],[66.2,-0.34],[67.5,-0.42],[68.8,-0.46],[70.3,-0.59],[71.9,-0.76],[73.6,-0.97],[75.1,-0.76],[76.4,-0.63],[77.8,-0.5],[79.2,-0.46],[80.7,-0.34],[82,-0.42],[83.7,-0.76],[85.4,-1.01],[86.7,-1.01],[87.6,-1.14],[89.3,-1.18],[90.4,-1.01],[91.5,-0.76],[92.6,-0.8],[94.1,-0.8],[95.2,-0.93],[96.5,-0.84],[97.6,-0.8],[98.8,-0.8],[100.1,-0.88],[101,0.34],[101.9,0.88],[103.2,0.88],[104.9,0.93],[106.6,0.93],[107.7,0.97],[108.8,0.97],
  [109.9,0.84],[111,0.8],[112.2,0.84],[113.3,0.71],[114.4,0.67],[115.5,0.63],[117.2,0.71],[118.6,0.84],[120,0.76],[121.3,0.88],[122.8,0.97],[124.4,1.01],[126.1,0.97],[127.5,0.88],[128.9,0.76],[130.6,0.67],[132.2,0.8],[133.9,0.88],[135.6,1.01],[137.3,0.84],[138.9,0.67],[140,0.34],[141.2,0.25],[142.3,0.17],[143.6,0],[145,-0.04],[146.7,-0.08],[147.9,-0.08],[149.2,0],[151.2,0],[151.8,1.01],[152.5,0.67],[153.2,0],[154,-0.34],[154.8,0.17],[155.9,0.76],[157,1.05],[158.5,0.93],[160.1,0.76],[161.8,0.59],[162.9,0.8],[164,0.88],[165.5,0.84],[166.8,1.34],[168,1.05],[169.6,1.09],[171.1,1.01],[172.4,0.93],[174.1,0.84],[175.5,0.76],[176.9,1.01],[178.6,1.14],[180.2,1.18],[181.9,1.18],[183.6,1.14],[185.2,1.14],[186.9,1.09],[189.2,1.09],[191.4,1.05],[193.6,1.05],[195.8,1.05],[198.1,1.05],[200.3,1.01],[202.5,0.93],[204.8,0.71],[205.9,0.93],[207.6,1.01],[209.2,1.26],[210.9,1.3],[212.6,1.14],[214.3,0.93],[215.9,0.8],[217.6,0.67],[219.3,1.01],[221,1.05],[222.6,1.05],[224.9,1.05],[227.1,1.05],[229.3,1.05],
  [232.7,1.11],[234.9,1.11],[237.2,1.11],[238.8,1.14],[240,1.18],[241.1,1.18],[242.2,1.22],[243.9,1.22],[246.1,1.22],[248.3,1.22],[250.6,1.22],[252.8,1.18],[255,1.18],[257.3,1.18],[259.5,1.18],[261.7,1.14],[264,1.14],[266.2,1.14],[268.4,1.14],[270.6,1.14],[272.9,1.14],[275.1,1.14],[277.3,1.14],[279.6,1.14],[281.8,1.14],[283.5,1.18],[285.2,1.3],[286.8,1.43],[288,1.51],[289.1,1.43],[290.2,1.47],[291.3,1.43],[293,1.35],[295.2,1.35],[297.4,1.3],[299.7,1.26],[301.9,1.22],[304.1,1.22],[306.4,1.18],[308.6,1.22],[310.3,1.22],[311.4,-0.55],[312.5,-0.59],[313.6,-0.67],[314.7,-0.76],[315.8,-0.84],[317,-0.93],[318.1,-1.01],[319.2,-1.09],[320.3,-1.26],[321.4,-1.26],[322,-1.35],[323.1,-1.09],[324.2,-0.84],[325.3,-0.93],[326.4,-1.01],[327.6,-1.01],[328.7,-0.84],[329.8,-1.01],[330.4,-1.51],[331.5,-1.6],[332.6,-1.51],[333.7,-1.43],[334.8,-1.47],[335.9,-1.26],[337,-0.93],[338.2,-0.5],[339.3,-0.25],[340.1,-0.25],[341,-0.59],[342.1,-0.84],[343.2,-0.93],[344.3,-0.76],[345.4,-0.84],[346.5,-1.01],[347.7,-1.26],[348.8,-1.43],[349.9,-1.35],[351,-1.01],[352.1,-0.88],[353.2,-0.84],[354.3,-0.93],[355.5,-1.01],[356.4,-0.93],[357.5,-0.42],[358.8,-0.17],[359.9,0.08],[360.8,0.21],[361.6,0.17],[362.2,0]];

function toPoints(pairs) {
  return pairs.map(p => ({ x: p[0], y: p[1] }));
}

// black frame around the plot area
const plotFrame = {
  id: 'plotFrame',
  afterDraw(chart) {
    const a = chart.chartArea;
    const c = chart.ctx;
    c.save();
    c.strokeStyle = '#000';
    c.lineWidth = 2;
    c.strokeRect(a.left, a.top, a.right - a.left, a.bottom - a.top);
    c.restore();
  }
};

function drawPanel(canvasId, histMax, histMin, simMax, simMin, lastDay, box) {
  const hist = { borderColor: '#808080', borderWidth: 4.5 };
  const sim = { borderColor: '#000000', borderWidth: 1 };
  new Chart(document.getElementById(canvasId), {
    type: 'line',
    data: {
      datasets: [
        { ...hist, data: toPoints(histMax) },
        { ...hist, data: toPoints(histMin) },
        { ...sim, data: toPoints(simMax) },
        { ...sim, data: toPoints(simMin) }
      ]
    },
    options: {
      responsive: false,
      animation: false,
      spanGaps: false,
      elements: { point: { radius: 0 }, line: { tension: 0, borderJoinStyle: 'round' } },
      layout: { padding: { top: box.top, right: box.right, left: 0, bottom: 0 } },
      plugins: { legend: { display: false }, tooltip: { enabled: false } },
      scales: {
        x: {
          type: 'linear',
          min: 0,
          max: lastDay,
          afterFit: s => { s.height = box.xAxis; },
          afterBuildTicks: s => { s.ticks = monthLabels.map((m, i) => ({ value: i * lastDay / 12 })); },
          ticks: {
            autoSkip: false, maxRotation: 0, padding: 28, color: '#000',
            font: { family: 'Liberation Sans, Arial', size: 21 },
            callback: (v, i) => monthLabels[i]
          },
          grid: { display: false, drawTicks: false },
          border: { display: false }
        },
        y: {
          min: -2,
          max: 5,
          afterFit: s => { s.width = 105; },
          afterBuildTicks: s => { s.ticks = stageTicks.map(v => ({ value: v })); },
          ticks: {
            padding: 16, color: '#000',
            font: { family: 'Liberation Sans, Arial', size: 21 },
            callback: v => String(v)
          },
          grid: {
            color: c => (c.tick && c.tick.value === 0 ? '#5a5a5a' : 'rgba(0,0,0,0)'),
            lineWidth: 1,
            tickColor: '#000',
            tickLength: 5
          },
          border: { display: false }
        }
      }
    },
    plugins: [plotFrame]
  });
}

drawPanel('rold', roldHistMax, roldHistMin, roldSimMax, roldSimMin, 365, { top: 32, right: 3, xAxis: 75 });
drawPanel('rmid', rmidHistMax, rmidHistMin, rmidSimMax, rmidSimMin, 363, { top: 33, right: 11, xAxis: 81 });
</script>
</body>
</html>
